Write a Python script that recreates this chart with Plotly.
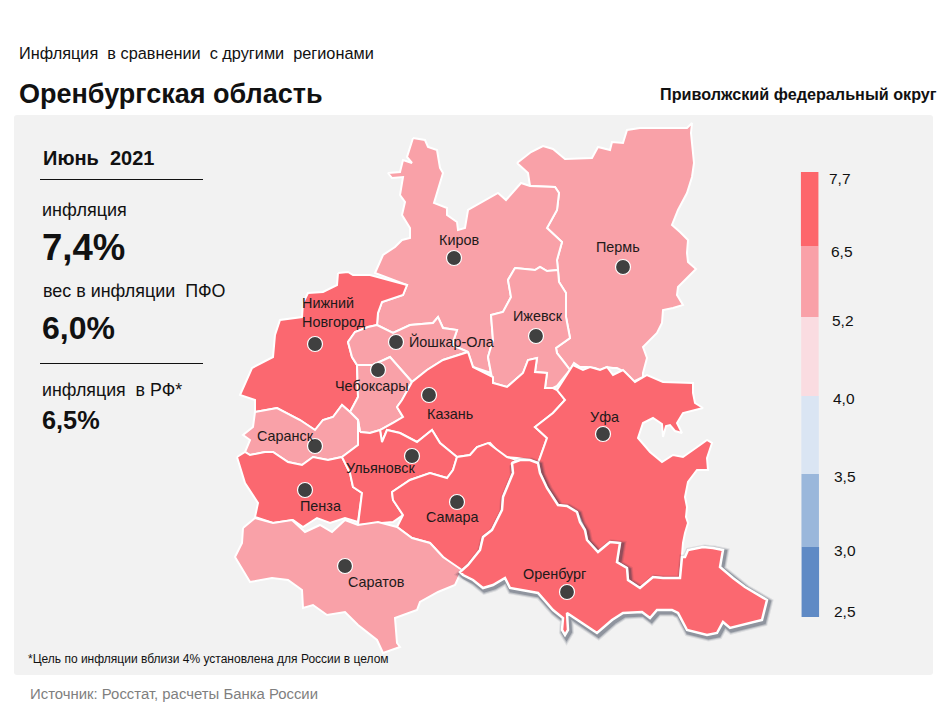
import plotly.graph_objects as go

# legend
legend_labels = ["7,7", "6,5", "5,2", "4,0", "3,5", "3,0", "2,5"]
legend_edges = [172, 246, 317, 396, 474, 547, 617]
legend_colors = ["#fd666b", "#f9a1a8", "#fadce1", "#dae5f3", "#9ab7db", "#5f8ac5"]
legend_label_x = [840, 842, 843, 844, 845, 845, 845]
legend_label_y = [178, 251, 320, 398, 476, 550, 611]

RED = "#fb6870"
PINK = "#f9a1a8"

# region outlines, picture pixels
perm = [(517,163),(531,152),(543,146),(553,149),(565,159),(592,158),(598,147),(610,150),(612,142),(623,143),(627,130),(640,128),(687,128),(692,123),(691,133),(693,150),(694,163),(692,177),(687,193),(678,210),(672,225),(680,232),(688,240),(687,253),(688,262),(696,269),(690,275),(683,282),(678,287),(677,295),(683,305),(673,308),(663,310),(662,323),(657,333),(643,347),(647,358),(643,373),(643,377),(633,382),(630,377),(625,372),(617,368),(613,368),(607,367),(600,370),(595,368),(587,367),(580,367),(574,363),(570,370),(565,363),(557,353),(556,348),(570,338),(566,317),(566,293),(559,282),(558,270),(557,260),(562,242),(547,228),(557,210),(559,193),(555,187),(530,186),(528,173)]
kirov = [(413,138),(425,140),(428,147),(437,150),(440,168),(443,173),(434,203),(447,208),(447,215),(457,222),(458,230),(465,228),(468,210),(480,203),(498,193),(506,200),(521,183),(530,186),(555,187),(559,193),(557,210),(547,228),(562,242),(557,260),(558,270),(547,271),(540,267),(535,270),(515,268),(508,280),(511,297),(503,312),(491,315),(493,340),(488,357),(491,373),(473,367),(468,352),(452,345),(457,330),(443,328),(438,317),(433,323),(410,325),(393,333),(377,325),(378,313),(382,302),(403,295),(407,285),(375,273),(383,255),(395,247),(402,240),(410,238),(410,228),(402,215),(405,202),(400,195),(403,177),(392,178),(388,173),(400,172),(403,160),(412,163),(407,157)]
udmurtia = [(515,268),(535,270),(540,267),(547,271),(558,270),(559,282),(566,293),(566,317),(570,338),(556,348),(557,353),(570,370),(557,386),(553,388),(545,388),(547,373),(535,372),(537,358),(528,360),(523,373),(507,387),(493,383),(491,373),(488,357),(493,340),(491,315),(503,312),(511,297),(508,280)]
nizhny = [(338,273),(348,272),(353,275),(370,275),(407,285),(403,295),(382,302),(378,313),(377,325),(368,327),(355,332),(348,342),(352,357),(357,365),(358,397),(350,412),(342,405),(333,417),(323,420),(315,430),(300,420),(277,408),(255,412),(255,400),(240,395),(252,368),(273,357),(275,335),(280,320),(302,317),(303,303),(308,293),(323,292),(337,285)]
mari = [(348,342),(355,332),(368,327),(377,325),(393,333),(410,325),(433,323),(438,317),(443,328),(457,330),(452,345),(468,352),(443,360),(427,370),(412,382),(390,357),(373,365),(357,365),(352,357)]
chuvashia = [(357,365),(373,365),(390,357),(412,382),(402,400),(397,407),(403,417),(393,423),(380,430),(370,433),(360,432),(358,420),(350,412),(358,397)]
tatarstan = [(468,352),(473,367),(493,377),(493,383),(507,387),(523,373),(528,360),(537,358),(535,372),(547,373),(545,388),(553,388),(557,390),(565,400),(553,413),(535,427),(547,438),(540,458),(538,463),(530,460),(517,458),(503,457),(490,443),(477,447),(470,455),(457,457),(440,443),(432,430),(417,442),(400,433),(387,430),(382,442),(380,430),(393,423),(403,417),(397,407),(402,400),(412,382),(427,370),(443,360)]
mordovia = [(255,412),(277,408),(300,420),(315,430),(323,420),(333,417),(342,405),(350,412),(358,420),(358,445),(342,457),(328,460),(313,457),(302,465),(288,462),(273,452),(265,452),(250,455),(245,452),(250,440),(243,435),(253,427)]
penza = [(237,457),(245,452),(250,455),(265,452),(273,452),(288,462),(302,465),(313,457),(328,460),(342,457),(350,473),(353,487),(362,493),(358,522),(345,518),(330,523),(317,518),(303,527),(293,520),(273,523),(255,517),(258,503),(245,483),(240,467)]
ulyanovsk = [(360,432),(370,433),(380,430),(382,442),(387,430),(400,433),(417,442),(432,430),(440,443),(457,457),(453,470),(447,478),(430,473),(410,480),(392,492),(393,500),(403,515),(393,522),(358,525),(362,493),(353,487),(350,473),(342,457),(358,445),(358,420)]
samara = [(392,492),(410,480),(430,473),(447,478),(453,470),(457,457),(470,455),(477,447),(488,443),(507,457),(517,460),(512,463),(513,473),(503,497),(502,510),(492,530),(483,537),(480,550),(468,565),(460,572),(443,557),(430,543),(412,538),(397,527),(403,515),(393,500)]
saratov = [(243,528),(255,518),(273,523),(292,520),(305,532),(320,525),(332,532),(345,520),(358,525),(378,522),(397,527),(412,538),(430,543),(443,557),(462,570),(455,585),(438,592),(420,602),(417,610),(395,618),(397,643),(400,647),(383,653),(377,640),(358,625),(345,612),(327,615),(313,605),(303,608),(302,590),(288,580),(272,578),(250,582),(235,557),(242,543)]
bashkortostan = [(557,390),(565,378),(573,365),(583,370),(590,367),(600,370),(607,367),(613,375),(623,370),(635,382),(647,375),(663,382),(693,383),(693,393),(695,403),(703,408),(683,413),(677,423),(682,433),(675,431),(670,425),(666,426),(663,437),(662,424),(653,418),(643,423),(638,438),(650,452),(662,462),(673,455),(683,457),(700,445),(707,440),(712,443),(707,458),(708,470),(697,470),(688,482),(686,492),(685,497),(687,507),(686,517),(688,523),(685,533),(683,543),(682,557),(680,578),(663,578),(653,577),(640,588),(628,580),(627,568),(617,562),(620,543),(610,542),(598,552),(587,540),(585,530),(577,512),(558,505),(547,488),(540,473),(538,463),(540,458),(547,438),(535,427),(553,413),(565,400)]
orenburg = [(512,463),(520,460),(530,460),(538,463),(540,473),(547,488),(558,505),(567,506),(577,512),(580,522),(585,530),(587,540),(598,552),(610,542),(620,543),(617,562),(627,568),(628,580),(640,588),(653,577),(663,578),(680,578),(682,557),(685,557),(688,550),(703,547),(713,548),(723,550),(720,567),(733,578),(745,587),(767,600),(762,620),(730,628),(723,622),(717,633),(707,635),(687,630),(678,613),(672,610),(657,610),(650,618),(642,612),(623,613),(612,620),(597,633),(582,623),(567,613),(568,630),(565,635),(562,630),(563,618),(553,610),(538,593),(510,588),(505,578),(493,585),(483,588),(473,580),(463,575),(460,572),(468,565),(480,550),(483,537),(492,530),(502,510),(503,497),(513,473)]

regions = [
    (perm, PINK), (kirov, PINK), (udmurtia, PINK), (nizhny, RED), (mari, PINK),
    (chuvashia, PINK), (tatarstan, RED), (mordovia, PINK), (penza, RED),
    (ulyanovsk, RED), (samara, RED), (saratov, PINK), (bashkortostan, RED),
]

# cities
city_x = [454, 623, 536, 396, 315, 378, 429, 603, 315, 412, 305, 457, 345, 567]
city_y = [258, 267, 336, 342, 344, 370, 395, 434, 446, 456, 490, 502, 566, 592]
label_names = ["Киров", "Пермь", "Ижевск", "Йошкар-Ола", "Чебоксары", "Казань", "Уфа",
               "Саранск", "Ульяновск", "Пенза", "Самара", "Саратов", "Оренбург"]
label_x = [459, 618, 538, 451, 372, 450, 604, 285, 380, 320, 452, 376, 554]
label_y = [240, 247, 316, 341, 386, 414, 417, 436, 468, 506, 517, 582, 574]

fig = go.Figure()


def outline(points, dx=0, dy=0):
    xs = [p[0] + dx for p in points] + [points[0][0] + dx]
    ys = [p[1] + dy for p in points] + [points[0][1] + dy]
    return xs, ys


for points, color in regions:
    xs, ys = outline(points)
    fig.add_trace(go.Scatter(x=xs, y=ys, mode="lines", fill="toself", fillcolor=color,
                             line=dict(color="white", width=2), hoverinfo="skip"))

# Orenburg sits on top with a soft shadow
for width, alpha in [(9, 0.10), (7, 0.18), (5, 0.30)]:
    xs, ys = outline(orenburg, 1.5, 2)
    fig.add_trace(go.Scatter(x=xs, y=ys, mode="lines", line=dict(color=f"rgba(40,50,70,{alpha})", width=width),
                             hoverinfo="skip"))
xs, ys = outline(orenburg)
fig.add_trace(go.Scatter(x=xs, y=ys, mode="lines", fill="toself", fillcolor=RED,
                         line=dict(color="white", width=2.5), hoverinfo="skip"))

fig.add_trace(go.Scatter(x=city_x, y=city_y, mode="markers", hoverinfo="skip",
                         marker=dict(size=15, color="#404040", line=dict(color="white", width=1.2))))

# legend bar
for i, color in enumerate(legend_colors):
    fig.add_trace(go.Bar(x=[810], y=[legend_edges[i + 1] - legend_edges[i]], base=legend_edges[i],
                         width=17.5, marker=dict(color=color, line=dict(width=0)), hoverinfo="skip"))

fig.update_layout(
    width=950, height=713, margin=dict(l=0, r=0, t=0, b=0),
    paper_bgcolor="white", plot_bgcolor="white", showlegend=False,
    font=dict(family="Liberation Sans, Arial", color="#111111"),
    xaxis=dict(range=[0, 950], visible=False, fixedrange=True),
    yaxis=dict(range=[713, 0], visible=False, fixedrange=True),
    shapes=[
        dict(type="path", layer="below", fillcolor="#f2f2f2", line=dict(width=0),
             path="M 17 115 L 930 115 Q 933 115 933 118 L 933 672 Q 933 675 930 675 L 17 675 Q 14 675 14 672 L 14 118 Q 14 115 17 115 Z"),
        dict(type="line", x0=40, x1=203, y0=179.5, y1=179.5, line=dict(color="#111111", width=1)),
        dict(type="line", x0=40, x1=203, y0=363.5, y1=363.5, line=dict(color="#111111", width=1)),
    ],
)


def text(x, y, s, size, bold=False, color="#111111", anchor="left"):
    fig.add_annotation(x=x, y=y, text=f"<b>{s}</b>" if bold else s, showarrow=False, xanchor=anchor,
                       yanchor="middle", font=dict(size=size, color=color), align="center" if anchor == "center" else "left",
                       borderpad=0, borderwidth=0)


text(19, 53, "Инфляция  в сравнении  с другими  регионами".replace("  ", "\u00a0 "), 16.3)
text(19, 94, "Оренбургская область", 27, bold=True)
text(937, 94, "Приволжский федеральный округ", 16.2, bold=True, anchor="right")
text(43, 158, "Июнь\u00a0 2021", 20, bold=True)
text(42, 210, "инфляция", 18)
text(42, 247, "7,4%", 36.6, bold=True)
text(43, 291, "вес в инфляции\u00a0 ПФО", 17.9)
text(42, 328, "6,0%", 32, bold=True)
text(42, 390, "инфляция\u00a0 в РФ*", 17.8)
text(42, 420, "6,5%", 25.3, bold=True)
text(28, 659, "*Цель по инфляции вблизи 4% установлена для России в целом", 12)
text(30, 694, "Источник: Росстат, расчеты Банка России", 14.9, color="#7f7f7f")

for name, x, y in zip(label_names, label_x, label_y):
    text(x, y, name, 14.4, anchor="center", color="#221a1a")
text(302, 312, "Нижний<br>Новгород", 14.4, color="#221a1a")

for label, x, y in zip(legend_labels, legend_label_x, legend_label_y):
    text(x, y, label, 15.5, anchor="center")

fig.write_html("out.html", post_script="document.body.style.margin='0';", config=dict(displayModeBar=False))
